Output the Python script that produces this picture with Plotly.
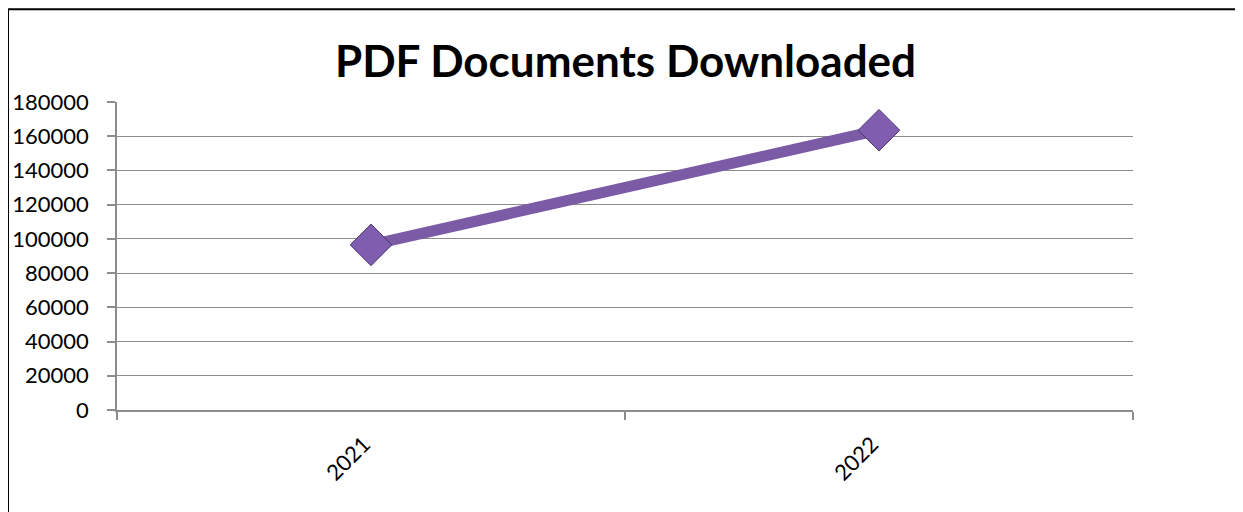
import plotly.graph_objects as go

years = ["2021", "2022"]
downloads = [96500, 163500]
y_ticks = [0, 20000, 40000, 60000, 80000, 100000, 120000, 140000, 160000, 180000]

# page body has an 8px margin, so the figure is offset by 8px
OFF = 8
W, H = 1243 - OFF, 512 - OFF
L = 117 - OFF
T = 102 - OFF
R = W - (1133 - OFF)
B = H - (410.5 - OFF)

fig = go.Figure()
fig.add_trace(go.Scatter(
    x=years, y=downloads, mode="lines+markers",
    line=dict(color="#7b5ba6", width=11),
    marker=dict(symbol="diamond", size=32, color="#7f5daf",
                line=dict(color="#4e3570", width=1)),
    showlegend=False, hoverinfo="x+y",
))

pw = W - L - R
ph = H - T - B
def px_to_paper_x(px):
    return (px - OFF - L) / pw
def px_to_paper_y(py):
    return (H - B - (py - OFF)) / ph

fig.update_layout(
    width=W, height=H,
    margin=dict(l=L, r=R, t=T, b=B, autoexpand=False),
    paper_bgcolor="white", plot_bgcolor="white",
    font=dict(family="Lato, 'Open Sans', sans-serif", color="black"),
    title=dict(text="<b>PDF Documents Downloaded</b>", x=0.5, xanchor="center",
               y=1 - (62 - OFF) / H, yanchor="middle", xref="container", yref="container",
               font=dict(size=44, family="Lato, sans-serif", color="black")),
    xaxis=dict(type="category", range=[-0.5, 1.5], tickson="boundaries",
               showgrid=False, showline=True, linecolor="#8c8c8c", linewidth=1.5,
               ticks="outside", ticklen=8, tickcolor="#8c8c8c", tickwidth=1.5,
               tickangle=-45, tickfont=dict(size=22), ticklabelstandoff=11,
               ticklabelshift=-7, zeroline=False, automargin=False),
    yaxis=dict(range=[0, 180000], tickvals=y_ticks, ticktext=[str(v) for v in y_ticks],
               showgrid=True, gridcolor="#8c8c8c", gridwidth=1.2,
               showline=True, linecolor="#8c8c8c", linewidth=1.5,
               ticks="outside", ticklen=8, tickcolor="#8c8c8c", tickwidth=1.5,
               tickfont=dict(size=22), ticklabelstandoff=14, zeroline=False,
               automargin=False),
    shapes=[dict(type="rect", xref="paper", yref="paper",
                 x0=px_to_paper_x(8), x1=px_to_paper_x(1238),
                 y0=px_to_paper_y(530), y1=px_to_paper_y(9),
                 line=dict(color="black", width=2), fillcolor="rgba(0,0,0,0)",
                 layer="below")],
)

fig.write_html("out.html")
